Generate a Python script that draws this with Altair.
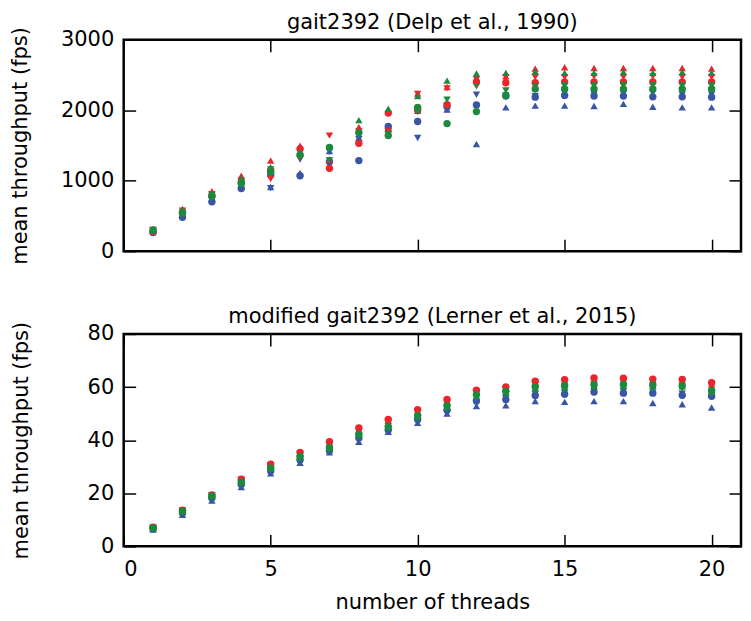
import altair as alt
import pandas as pd

threads = list(range(1, 21))

# ---- top panel: gait2392 (Delp et al., 1990), mean throughput (fps)
top_red_up = [315, 600, 850, 1070, 1285, 1495, 1300, 1760, 1730, 2235, 2330, 2455, 2480, 2590, 2610, 2600, 2600, 2600, 2600, 2590]
top_red_down = [300, 575, 810, 1000, 1025, 1320, 1640, 1700, 1700, 2230, 2310, 2440, 2470, 2470, 2470, 2480, 2470, 2480, 2470, 2470]
top_red_circle = [280, 545, 780, 980, 1150, 1450, 1175, 1530, 1960, 2000, 2080, 2400, 2390, 2390, 2400, 2400, 2400, 2400, 2400, 2400]
top_green_up = [310, 580, 820, 1030, 1190, 1400, 1480, 1860, 2020, 2200, 2420, 2520, 2530, 2550, 2530, 2530, 2540, 2530, 2540, 2530]
top_green_down = [300, 550, 790, 980, 1160, 1340, 1290, 1650, 1660, 1975, 2150, 2340, 2280, 2340, 2350, 2350, 2360, 2360, 2350, 2350]
top_green_circle = [295, 540, 780, 960, 1120, 1365, 1470, 1680, 1640, 2040, 1810, 1980, 2210, 2300, 2300, 2300, 2300, 2300, 2300, 2300]
top_blue_up = [290, 520, 740, 930, 910, 1110, 1420, 1610, 1750, 1990, 2010, 1520, 2040, 2065, 2065, 2060, 2090, 2050, 2040, 2040]
top_blue_down = [285, 510, 730, 920, 895, 1300, 1410, 1590, 1700, 1605, 2060, 2220, 2210, 2200, 2240, 2220, 2230, 2240, 2220, 2220]
top_blue_circle = [265, 480, 700, 890, 1080, 1070, 1270, 1285, 1770, 1840, 2050, 2075, 2200, 2185, 2210, 2200, 2200, 2190, 2190, 2185]

# ---- bottom panel: modified gait2392 (Lerner et al., 2015)
bot_red_circle = [7.2, 13.6, 19.4, 25.3, 30.9, 35.4, 39.4, 44.6, 47.8, 51.5, 55.3, 58.8, 60.0, 62.2, 62.8, 63.4, 63.3, 63.0, 62.9, 61.6]
bot_red_up = [7.0, 13.4, 19.2, 25.0, 30.5, 35.0, 39.0, 44.0, 47.3, 51.0, 54.8, 58.3, 59.6, 61.6, 62.5, 63.0, 62.8, 62.7, 62.5, 61.0]
bot_red_down = [7.1, 13.5, 19.3, 25.1, 30.6, 34.8, 38.6, 43.6, 47.0, 50.7, 54.4, 58.0, 59.3, 61.2, 62.1, 62.4, 62.2, 62.2, 62.0, 60.8]
bot_green_circle = [6.9, 13.3, 19.0, 24.2, 29.5, 33.9, 37.2, 42.2, 45.1, 49.2, 53.0, 57.1, 58.4, 60.2, 60.6, 61.0, 61.0, 60.8, 60.5, 58.7]
bot_green_up = [6.8, 13.2, 18.9, 24.0, 29.3, 33.6, 36.8, 41.9, 44.8, 48.8, 52.6, 56.6, 58.0, 59.8, 60.2, 60.7, 60.6, 60.5, 60.3, 58.3]
bot_green_down = [6.8, 13.0, 18.7, 23.8, 29.0, 33.2, 36.5, 41.3, 44.3, 48.3, 52.0, 56.0, 57.2, 58.6, 59.0, 59.6, 59.8, 59.5, 59.3, 57.6]
bot_blue_circle = [6.6, 12.6, 18.2, 23.3, 28.4, 32.5, 36.0, 40.8, 43.8, 47.8, 51.3, 54.7, 55.3, 56.8, 57.3, 58.1, 57.7, 57.7, 56.9, 56.5]
bot_blue_down = [6.5, 12.3, 17.8, 22.9, 28.0, 32.0, 35.6, 40.2, 43.1, 47.2, 50.5, 54.0, 55.8, 57.4, 57.8, 58.3, 58.3, 58.0, 57.5, 56.8]
bot_blue_up = [6.3, 11.9, 17.3, 22.3, 27.5, 31.5, 35.4, 39.4, 43.1, 46.5, 50.0, 52.8, 53.1, 54.7, 54.4, 54.7, 54.7, 54.0, 53.5, 52.3]

color_names = ["blue", "red", "green"]
color_hex = ["#3a55a4", "#e8262c", "#1b8a3e"]
shape_names = ["circle", "triangle-up", "triangle-down"]

x_ticks = [0, 5, 10, 15, 20]
top_y_ticks = [0, 1000, 2000, 3000]
bot_y_ticks = [0, 20, 40, 60, 80]


def build(series):
    rows = []
    for color, shape, vals in series:
        for t, v in zip(threads, vals):
            rows.append({"threads": t, "fps": v, "color": color, "shape": shape})
    return pd.DataFrame(rows)


top_df = build([
    ("blue", "circle", top_blue_circle), ("blue", "triangle-up", top_blue_up), ("blue", "triangle-down", top_blue_down),
    ("red", "circle", top_red_circle), ("red", "triangle-up", top_red_up), ("red", "triangle-down", top_red_down),
    ("green", "circle", top_green_circle), ("green", "triangle-up", top_green_up), ("green", "triangle-down", top_green_down),
])
bot_df = build([
    ("blue", "circle", bot_blue_circle), ("blue", "triangle-up", bot_blue_up), ("blue", "triangle-down", bot_blue_down),
    ("red", "circle", bot_red_circle), ("red", "triangle-up", bot_red_up), ("red", "triangle-down", bot_red_down),
    ("green", "circle", bot_green_circle), ("green", "triangle-up", bot_green_up), ("green", "triangle-down", bot_green_down),
])

TICK = 12


def panel(df, ydom, yticks, title, ytitle_pad, height, show_x):
    xs = alt.Scale(domain=[0, 21], nice=False, zero=False)
    ys = alt.Scale(domain=ydom, nice=False, zero=False)
    if show_x:
        xax = alt.Axis(values=x_ticks, orient="bottom", ticks=False, domain=False, grid=False,
                       labelPadding=12, title="number of threads", titlePadding=12, format="d")
    else:
        xax = alt.Axis(values=x_ticks, orient="bottom", ticks=False, domain=False, grid=False,
                       labels=False, title=None)
    yax = alt.Axis(values=yticks, orient="left", ticks=False, domain=False, grid=False,
                   labelPadding=10, title="mean throughput (fps)", titlePadding=ytitle_pad, format="d")
    pts = alt.Chart(df).mark_point(filled=True, size=55, opacity=1).encode(
        x=alt.X("threads:Q", scale=xs, axis=xax),
        y=alt.Y("fps:Q", scale=ys, axis=yax),
        color=alt.Color("color:N", scale=alt.Scale(domain=color_names, range=color_hex), legend=None),
        shape=alt.Shape("shape:N", scale=alt.Scale(domain=shape_names, range=shape_names), legend=None),
    )
    tk = dict(labels=False, domain=False, grid=False, ticks=True, tickSize=TICK,
              tickWidth=1.5, tickColor="black", title=None)
    in1 = alt.Chart(df).mark_point(opacity=0, size=1).encode(
        x=alt.X("threads:Q", scale=xs, axis=alt.Axis(values=x_ticks, orient="bottom", offset=-TICK, **tk)),
        y=alt.Y("fps:Q", scale=ys, axis=alt.Axis(values=yticks, orient="left", offset=-TICK, **tk)),
    )
    in2 = alt.Chart(df).mark_point(opacity=0, size=1).encode(
        x=alt.X("threads:Q", scale=xs, axis=alt.Axis(values=x_ticks, orient="top", offset=-TICK, **tk)),
        y=alt.Y("fps:Q", scale=ys, axis=alt.Axis(values=yticks, orient="right", offset=-TICK, **tk)),
    )
    return alt.layer(pts, in1, in2).resolve_axis(x="independent", y="independent").properties(
        width=619, height=height, title=title)


top = panel(top_df, [0, 3000], top_y_ticks, "gait2392 (Delp et al., 1990)", 30, 212, False)
bot = panel(bot_df, [0, 80], bot_y_ticks, "modified gait2392 (Lerner et al., 2015)", 56, 213, True)

chart = alt.vconcat(top, bot, spacing=39).properties(
    padding={"left": 0, "top": 1, "right": 0, "bottom": 0}
).configure_view(
    stroke="black", strokeWidth=2.5
).configure_axis(
    labelFont="DejaVu Sans", labelFontSize=21, labelColor="black",
    titleFont="DejaVu Sans", titleFontSize=21, titleFontWeight="normal", titleColor="black"
).configure_title(
    font="DejaVu Sans", fontSize=21, fontWeight="normal", color="black", offset=-6
)

chart.save("out.html", embed_options={"renderer": "svg", "actions": False})
